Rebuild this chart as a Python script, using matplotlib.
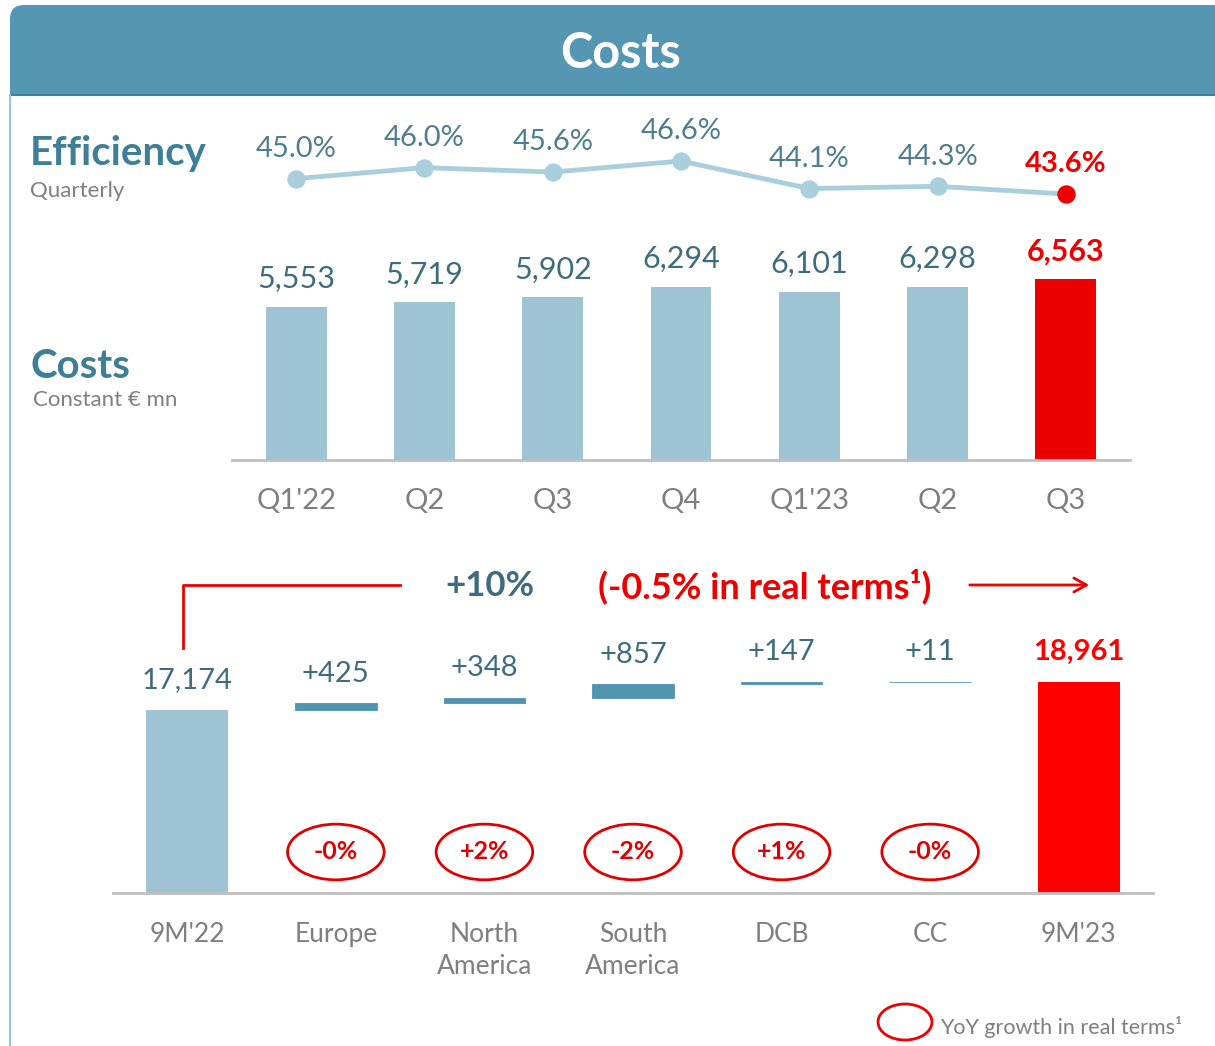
import matplotlib
matplotlib.use("Agg")
import numpy as np
from matplotlib import pyplot as plt
from matplotlib.patches import Ellipse, FancyBboxPatch, Rectangle
from matplotlib.transforms import blended_transform_factory

plt.rcParams['font.family'] = ['Lato', 'DejaVu Sans']

# quarterly data
quarters = ["Q1'22", "Q2", "Q3", "Q4", "Q1'23", "Q2", "Q3"]
costs_q = [5553, 5719, 5902, 6294, 6101, 6298, 6563]
efficiency = [45.0, 46.0, 45.6, 46.6, 44.1, 44.3, 43.6]

# 9M bridge
bridge_labels = ["9M'22", "Europe", "North\nAmerica", "South\nAmerica", "DCB", "CC", "9M'23"]
start_total = 17174
steps = [425, 348, 857, 147, 11]
end_total = 18961
real_growth = ["-0%", "+2%", "-2%", "+1%", "-0%"]

LIGHT = "#9dc3d4"
STEP = "#4f94b0"
RED = "#ec0000"
RED2 = "#ff0000"
TEAL_TXT = "#3e6c7e"
GRAY = "#7f7f7f"

W, H = 1215, 1046
fig = plt.figure(figsize=(W / 100, H / 100), dpi=100)

# background / decoration in pixel coordinates
bg = fig.add_axes([0, 0, 1, 1], zorder=0)
bg.set_xlim(0, W)
bg.set_ylim(H, 0)
bg.axis("off")
bg.add_patch(FancyBboxPatch((10, 5), 1230, 90, boxstyle="round,pad=0,rounding_size=14",
                            fc="#5597b3", ec="none"))
bg.add_patch(Rectangle((10, 60), 1230, 35, fc="#5597b3", ec="none"))
bg.plot([10, W], [95, 95], color="#3f7f98", lw=1.5)
bg.plot([10, 10], [95, H], color="#9cc5d3", lw=1.5)
bg.text(621, 54, "Costs", color="white", fontsize=35, fontweight="bold", ha="center", va="center")

bg.text(30, 153, "Efficiency", color="#3d7f97", fontsize=29, fontweight="bold", va="center")
bg.text(30, 191, "Quarterly", color=GRAY, fontsize=16, va="center")
bg.text(30, 366, "Costs", color="#3d7f97", fontsize=29, fontweight="bold", va="center")
bg.text(33, 400, "Constant € mn", color=GRAY, fontsize=16, va="center")

# bracket + headline
bg.plot([183, 183, 400], [648, 585, 585], color=RED, lw=2)
bg.text(490, 586, "+10%", color=TEAL_TXT, fontsize=25, fontweight="bold", ha="center", va="center")
bg.text(765, 586, "(-0.5% in real terms¹)", color=RED, fontsize=26, fontweight="bold",
        ha="center", va="center")
bg.annotate("", xy=(1092, 585), xytext=(967, 585),
            arrowprops=dict(arrowstyle="->,head_length=0.9,head_width=0.5", color=RED, lw=2))

# legend
bg.add_patch(Ellipse((905, 1022), 54, 36, fill=False, ec=RED, lw=2))
bg.text(940, 1027, "YoY growth in real terms¹", color=GRAY, fontsize=15.5, va="center")

# ---- quarterly costs bars
ax1 = fig.add_axes([232 / W, (H - 460) / H, 898 / W, 230 / H], zorder=2)
ax1.patch.set_visible(False)
x = np.arange(len(quarters))
colors_q = [LIGHT] * (len(quarters) - 1) + [RED]
ax1.bar(x, costs_q, width=0.475, color=colors_q)
for i, v in enumerate(costs_q):
    last = i == len(costs_q) - 1
    ax1.annotate(f"{v:,}", (i, v), xytext=(0, 10), textcoords="offset points",
                 ha="center", va="bottom", fontsize=22,
                 color=RED if last else TEAL_TXT, fontweight="bold" if last else "normal")
ax1.set_xlim(-0.5, len(quarters) - 0.5)
ax1.set_ylim(0, 8350)
ax1.set_xticks(x)
ax1.set_xticklabels(quarters, fontsize=21, color=GRAY)
ax1.tick_params(axis="x", length=0, pad=20)
ax1.set_yticks([])
for s in ["top", "right", "left"]:
    ax1.spines[s].set_visible(False)
ax1.spines["bottom"].set_color("#bfbfbf")
ax1.spines["bottom"].set_linewidth(2)

# ---- efficiency line
ax0 = fig.add_axes([232 / W, (H - 210) / H, 898 / W, 100 / H], zorder=2)
ax0.patch.set_visible(False)
ax0.plot(x, efficiency, color="#a9cfdd", lw=3.5, zorder=1)
ax0.scatter(x[:-1], efficiency[:-1], s=150, color="#a9cfdd", zorder=2)
ax0.scatter(x[-1:], efficiency[-1:], s=150, color=RED, zorder=3)
for i, v in enumerate(efficiency):
    last = i == len(efficiency) - 1
    ax0.annotate(f"{v:.1f}%", (i, v), xytext=(0, 12), textcoords="offset points",
                 ha="center", va="bottom", fontsize=21,
                 color=RED if last else "#4f7d90", fontweight="bold" if last else "normal")
ax0.set_xlim(-0.5, len(quarters) - 0.5)
ax0.set_ylim(42.15, 51.24)
ax0.axis("off")

# ---- 9M bridge (waterfall)
ax2 = fig.add_axes([113 / W, (H - 893) / H, 1040 / W, 293 / H], zorder=2)
ax2.patch.set_visible(False)
xb = np.arange(len(bridge_labels))
bottoms = start_total + np.concatenate([[0], np.cumsum(steps)[:-1]])
ax2.bar(xb[0], start_total, width=0.55, color=LIGHT)
ax2.bar(xb[1:-1], steps, bottom=bottoms, width=0.55, color=STEP, edgecolor=STEP, linewidth=0.6)
ax2.bar(xb[-1], end_total, width=0.55, color=RED2)

ax2.annotate(f"{start_total:,}", (0, start_total), xytext=(0, 12), textcoords="offset points",
             ha="center", va="bottom", fontsize=21, color=TEAL_TXT)
for i, (v, b) in enumerate(zip(steps, bottoms)):
    ax2.annotate(f"+{v}", (i + 1, b + v), xytext=(0, 12), textcoords="offset points",
                 ha="center", va="bottom", fontsize=21, color=TEAL_TXT)
ax2.annotate(f"{end_total:,}", (xb[-1], end_total), xytext=(0, 12), textcoords="offset points",
             ha="center", va="bottom", fontsize=21, color=RED2, fontweight="bold")

trans = blended_transform_factory(ax2.transData, ax2.transAxes)
for i, g in enumerate(real_growth):
    ax2.add_patch(Ellipse((i + 1, 0.14), 0.65, 0.19, transform=trans,
                          fill=False, ec="#e00000", lw=2))
    ax2.text(i + 1, 0.14, g, transform=trans, ha="center", va="center",
             fontsize=18, fontweight="bold", color="#e00000")

ax2.set_xlim(-0.5, len(bridge_labels) - 0.5)
ax2.set_ylim(5496, 24194)
ax2.set_xticks(xb)
ax2.set_xticklabels(bridge_labels, fontsize=19, color=GRAY, linespacing=1.35, va="top")
ax2.tick_params(axis="x", length=0, pad=21)
ax2.set_yticks([])
for s in ["top", "right", "left"]:
    ax2.spines[s].set_visible(False)
ax2.spines["bottom"].set_color("#bfbfbf")
ax2.spines["bottom"].set_linewidth(2)

fig.savefig("out.png", dpi=100)
